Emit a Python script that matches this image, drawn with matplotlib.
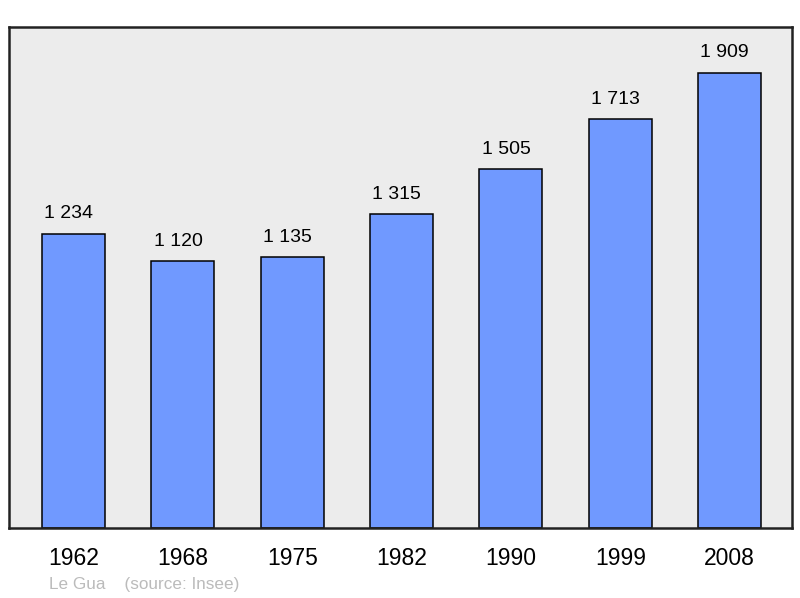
import numpy as np
from matplotlib import pyplot as plt

# Population data
years = ['1962', '1968', '1975', '1982', '1990', '1999', '2008']
population = [1234, 1120, 1135, 1315, 1505, 1713, 1909]
labels = ['1 234', '1 120', '1 135', '1 315', '1 505', '1 713', '1 909']

plt.rcParams['font.family'] = ['Liberation Sans', 'DejaVu Sans']

fig = plt.figure(figsize=(8, 5.98), dpi=100)
ax = fig.add_axes([9 / 800, 1 - 528 / 598, 783 / 800, 501 / 598])
ax.set_facecolor('#ececec')

x = np.arange(len(years))
ax.bar(x, population, width=0.576, color='#7099ff', edgecolor='black', linewidth=1.1, zorder=2)

# value labels sit a little left of the bar centre, like the original
for xi, val, lab in zip(x, population, labels):
    ax.annotate(lab, (xi, val), xytext=(-3.5, 8), textcoords='offset points',
                ha='center', va='bottom', fontsize=14, color='black')

ax.set_xlim(-0.59, 6.57)
ax.set_ylim(0, 2100)
ax.set_xticks(x)
ax.set_xticklabels(years, fontsize=16.5)
ax.tick_params(axis='x', length=0, pad=14)
ax.set_yticks([])
for s in ax.spines.values():
    s.set_linewidth(1.8)
    s.set_color('#222222')

fig.text(49 / 800, 1 - 584 / 598, 'Le Gua    (source: Insee)', color='#bbbbbb',
         fontsize=12.3, ha='left', va='center')

fig.savefig('out.png', dpi=100)
